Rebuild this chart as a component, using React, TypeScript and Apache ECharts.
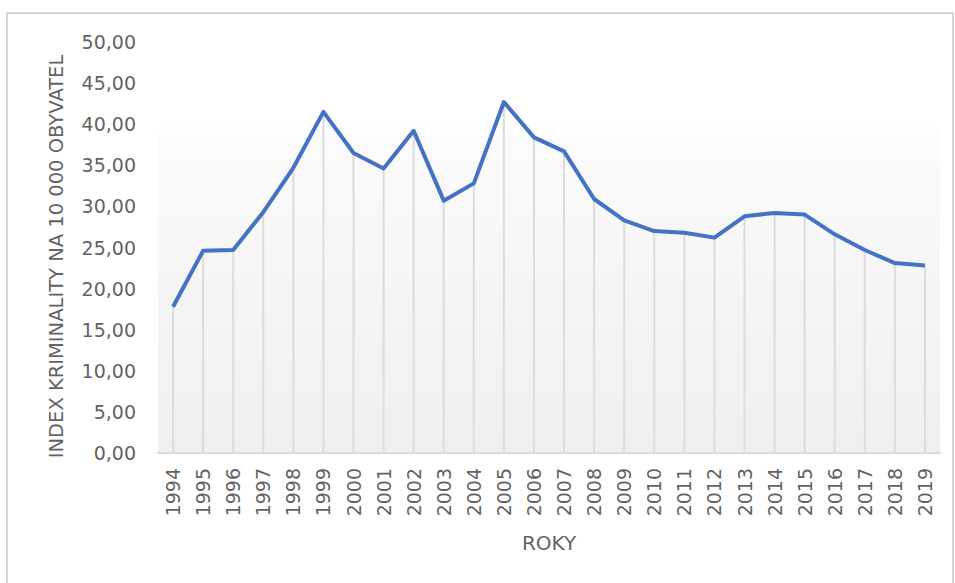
import React, { useEffect, useRef } from "react";
import * as echarts from "echarts";

const years = [
  "1994", "1995", "1996", "1997", "1998", "1999", "2000", "2001", "2002",
  "2003", "2004", "2005", "2006", "2007", "2008", "2009", "2010", "2011",
  "2012", "2013", "2014", "2015", "2016", "2017", "2018", "2019",
];
const crimeIndex = [
  17.8, 24.6, 24.7, 29.3, 34.7, 41.5, 36.5, 34.6, 39.2, 30.7, 32.8, 42.7,
  38.4, 36.7, 30.9, 28.3, 27.0, 26.8, 26.2, 28.8, 29.2, 29.0, 26.6, 24.7,
  23.1, 22.8,
];
const yAxisTitle = "INDEX KRIMINALITY NA 10 000 OBYVATEL";
const xAxisTitle = "ROKY";

const FONT = "DejaVu Sans";
const TEXT = "#636363";

export default function App() {
  const ref = useRef<HTMLDivElement>(null);
  useEffect(() => {
    if (!ref.current) return;
    const chart = echarts.init(ref.current, undefined, { renderer: "svg" });
    chart.setOption({
      animation: false,
      backgroundColor: "#ffffff",
      graphic: [
        {
          type: "rect",
          shape: { x: 7, y: 13, width: 946, height: 600 },
          style: { fill: "none", stroke: "#d6d6d6", lineWidth: 2 },
          silent: true,
        },
      ],
      grid: {
        left: 158,
        right: 15,
        top: 42,
        bottom: 130,
        show: true,
        borderWidth: 0,
        backgroundColor: {
          type: "linear",
          x: 0, y: 0, x2: 0, y2: 1,
          colorStops: [
            { offset: 0, color: "#ffffff" },
            { offset: 0.2, color: "#ffffff" },
            { offset: 0.24, color: "#fbfbfb" },
            { offset: 1, color: "#efefef" },
          ],
        },
      },
      xAxis: {
        type: "category",
        data: years,
        boundaryGap: true,
        axisLine: { show: true, lineStyle: { color: "#d9d9d9", width: 2 } },
        axisTick: { show: false },
        axisLabel: {
          rotate: 90,
          margin: 15,
          interval: 0,
          color: TEXT,
          fontFamily: FONT,
          fontSize: 19,
        },
        splitLine: { show: false },
        name: xAxisTitle,
        nameLocation: "middle",
        nameGap: 80,
        nameTextStyle: { color: TEXT, fontFamily: FONT, fontSize: 20 },
      },
      yAxis: {
        type: "value",
        min: 0,
        max: 50,
        interval: 5,
        axisLine: { show: false },
        axisTick: { show: false },
        splitLine: { show: false },
        axisLabel: {
          margin: 22,
          color: TEXT,
          fontFamily: FONT,
          fontSize: 19,
          formatter: (v: number) => v.toFixed(2).replace(".", ","),
        },
        name: yAxisTitle,
        nameLocation: "middle",
        nameGap: 92,
        nameTextStyle: {
          color: TEXT,
          fontFamily: FONT,
          fontSize: 19.5,
          padding: [0, 18, 0, 0],
        },
      },
      series: [
        {
          type: "bar",
          data: crimeIndex,
          barWidth: 2,
          z: 1,
          itemStyle: { color: "#dcdcdc" },
          silent: true,
        },
        {
          type: "line",
          data: crimeIndex,
          z: 3,
          symbol: "none",
          lineStyle: { color: "#4472C4", width: 4, join: "round" },
        },
      ],
    });
    return () => chart.dispose();
  }, []);
  return (
    <div
      ref={ref}
      style={{ position: "absolute", left: 0, top: 0, width: 955, height: 583 }}
    />
  );
}
